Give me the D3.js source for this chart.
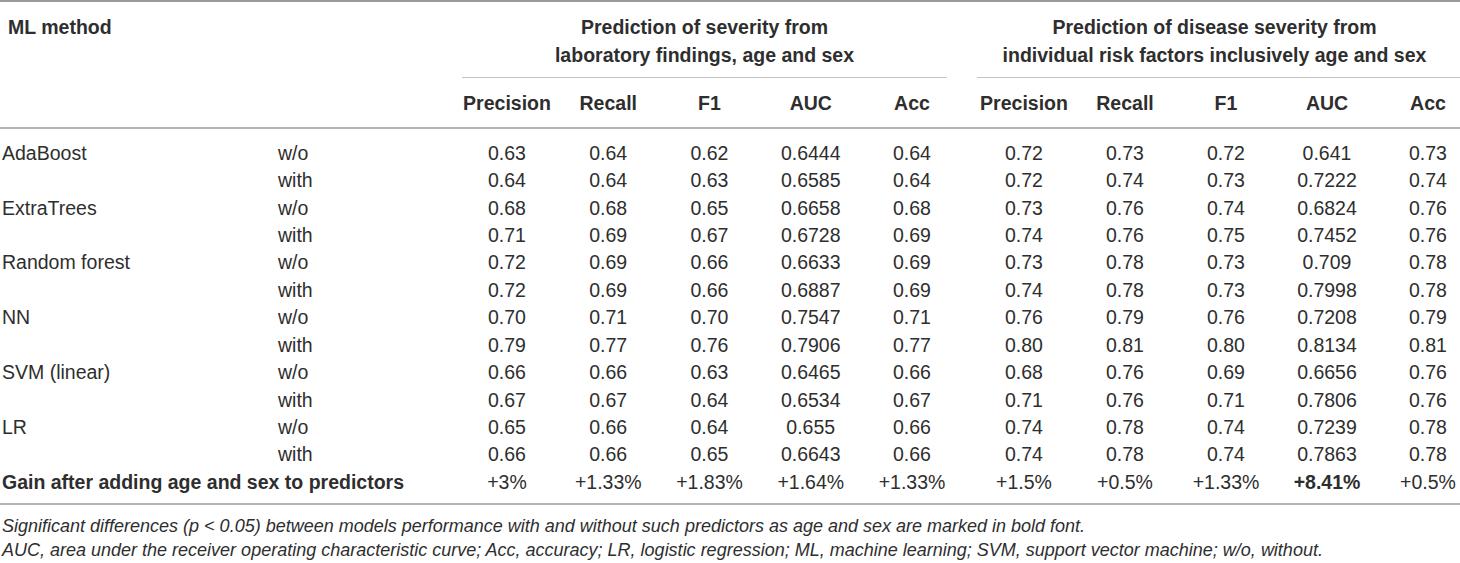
<!DOCTYPE html>
<html>
<head>
<meta charset="utf-8">
<script src="https://cdn.jsdelivr.net/npm/d3@7"></script>
<style>
  body { margin: 0; background: #fff; }
  svg text { font-family: "Liberation Sans", Arial, sans-serif; fill: #2e2e2e; }
</style>
</head>
<body>
<div id="table"></div>
<script>
// table data
var methods = ["AdaBoost", "ExtraTrees", "Random forest", "NN", "SVM (linear)", "LR"];
var conditions = ["w/o", "with"];
var metrics = ["Precision", "Recall", "F1", "AUC", "Acc"];
var groupTitles = [
  ["Prediction of severity from", "laboratory findings, age and sex"],
  ["Prediction of disease severity from", "individual risk factors inclusively age and sex"]
];

// one row per method/condition, columns = metrics
var labValues = [
  ["0.63", "0.64", "0.62", "0.6444", "0.64"],
  ["0.64", "0.64", "0.63", "0.6585", "0.64"],
  ["0.68", "0.68", "0.65", "0.6658", "0.68"],
  ["0.71", "0.69", "0.67", "0.6728", "0.69"],
  ["0.72", "0.69", "0.66", "0.6633", "0.69"],
  ["0.72", "0.69", "0.66", "0.6887", "0.69"],
  ["0.70", "0.71", "0.70", "0.7547", "0.71"],
  ["0.79", "0.77", "0.76", "0.7906", "0.77"],
  ["0.66", "0.66", "0.63", "0.6465", "0.66"],
  ["0.67", "0.67", "0.64", "0.6534", "0.67"],
  ["0.65", "0.66", "0.64", "0.655", "0.66"],
  ["0.66", "0.66", "0.65", "0.6643", "0.66"]
];
var riskValues = [
  ["0.72", "0.73", "0.72", "0.641", "0.73"],
  ["0.72", "0.74", "0.73", "0.7222", "0.74"],
  ["0.73", "0.76", "0.74", "0.6824", "0.76"],
  ["0.74", "0.76", "0.75", "0.7452", "0.76"],
  ["0.73", "0.78", "0.73", "0.709", "0.78"],
  ["0.74", "0.78", "0.73", "0.7998", "0.78"],
  ["0.76", "0.79", "0.76", "0.7208", "0.79"],
  ["0.80", "0.81", "0.80", "0.8134", "0.81"],
  ["0.68", "0.76", "0.69", "0.6656", "0.76"],
  ["0.71", "0.76", "0.71", "0.7806", "0.76"],
  ["0.74", "0.78", "0.74", "0.7239", "0.78"],
  ["0.74", "0.78", "0.74", "0.7863", "0.78"]
];
var gainLabel = "Gain after adding age and sex to predictors";
var gainLab = ["+3%", "+1.33%", "+1.83%", "+1.64%", "+1.33%"];
var gainRisk = ["+1.5%", "+0.5%", "+1.33%", "+8.41%", "+0.5%"];
var gainBold = [[false, false, false, false, false], [false, false, false, true, false]];
var footnotes = [
  "Significant differences (p < 0.05) between models performance with and without such predictors as age and sex are marked in bold font.",
  "AUC, area under the receiver operating characteristic curve; Acc, accuracy; LR, logistic regression; ML, machine learning; SVM, support vector machine; w/o, without."
];

var width = 1460, height = 563;
var fontSize = 19.5;

var svg = d3.select("#table")
  .append("svg")
    .attr("width", width)
    .attr("height", height);

// row positions (12 data rows + gain row)
var rowKeys = d3.range(labValues.length + 1);
var y = d3.scalePoint()
    .domain(rowKeys)
    .range([153, 482]);

// column positions for each group
var xGroups = [
  d3.scalePoint().domain(metrics).range([507, 912]),
  d3.scalePoint().domain(metrics).range([1024, 1428])
];
var groupSpans = [[462, 947], [977, 1460]];

function hline(x1, x2, yy, color, w) {
  svg.append("line")
    .attr("x1", x1).attr("x2", x2)
    .attr("y1", yy).attr("y2", yy)
    .attr("stroke", color)
    .attr("stroke-width", w);
}

// rules
hline(0, width, 1, "#9a9a9a", 2);
hline(0, width, 128, "#b4b4b4", 2);
hline(0, width, 504, "#b4b4b4", 2);
groupSpans.forEach(function(s) { hline(s[0], s[1], 77.5, "#c4c4c4", 1.2); });

// header
svg.append("text")
  .attr("x", 8).attr("y", 27)
  .attr("dy", "0.35em")
  .attr("font-size", fontSize)
  .attr("font-weight", "bold")
  .text("ML method");

groupTitles.forEach(function(lines, g) {
  var cx = (groupSpans[g][0] + groupSpans[g][1]) / 2 - (g === 1 ? 4 : 0);
  lines.forEach(function(line, i) {
    svg.append("text")
      .attr("x", cx).attr("y", 27 + i * 28)
      .attr("dy", "0.35em")
      .attr("text-anchor", "middle")
      .attr("font-size", fontSize)
      .attr("font-weight", "bold")
      .text(line);
  });
  svg.selectAll(null)
    .data(metrics)
    .enter()
    .append("text")
      .attr("x", function(d) { return xGroups[g](d); })
      .attr("y", 103)
      .attr("dy", "0.35em")
      .attr("text-anchor", "middle")
      .attr("font-size", fontSize)
      .attr("font-weight", "bold")
      .text(function(d) { return d; });
});

// method and condition labels
labValues.forEach(function(row, i) {
  if (i % 2 === 0) {
    svg.append("text")
      .attr("x", 2).attr("y", y(i))
      .attr("dy", "0.35em")
      .attr("font-size", fontSize)
      .text(methods[i / 2]);
  }
  svg.append("text")
    .attr("x", 278).attr("y", y(i))
    .attr("dy", "0.35em")
    .attr("font-size", fontSize)
    .text(conditions[i % 2]);
});

// values
[labValues, riskValues].forEach(function(data, g) {
  data.forEach(function(row, i) {
    svg.selectAll(null)
      .data(row)
      .enter()
      .append("text")
        .attr("x", function(d, j) { return xGroups[g](metrics[j]); })
        .attr("y", y(i))
        .attr("dy", "0.35em")
        .attr("text-anchor", "middle")
        .attr("font-size", fontSize)
        .text(function(d) { return d; });
  });
});

// gain row
var gainRow = labValues.length;
svg.append("text")
  .attr("x", 2).attr("y", y(gainRow))
  .attr("dy", "0.35em")
  .attr("font-size", fontSize)
  .attr("font-weight", "bold")
  .text(gainLabel);

[gainLab, gainRisk].forEach(function(data, g) {
  svg.selectAll(null)
    .data(data)
    .enter()
    .append("text")
      .attr("x", function(d, j) { return xGroups[g](metrics[j]); })
      .attr("y", y(gainRow))
      .attr("dy", "0.35em")
      .attr("text-anchor", "middle")
      .attr("font-size", fontSize)
      .attr("font-weight", function(d, j) { return gainBold[g][j] ? "bold" : "normal"; })
      .text(function(d) { return d; });
});

// footnotes
footnotes.forEach(function(t, i) {
  svg.append("text")
    .attr("x", 2).attr("y", 526 + i * 23.5)
    .attr("dy", "0.35em")
    .attr("font-size", 18)
    .attr("font-style", "italic")
    .text(t);
});
</script>
</body>
</html>
